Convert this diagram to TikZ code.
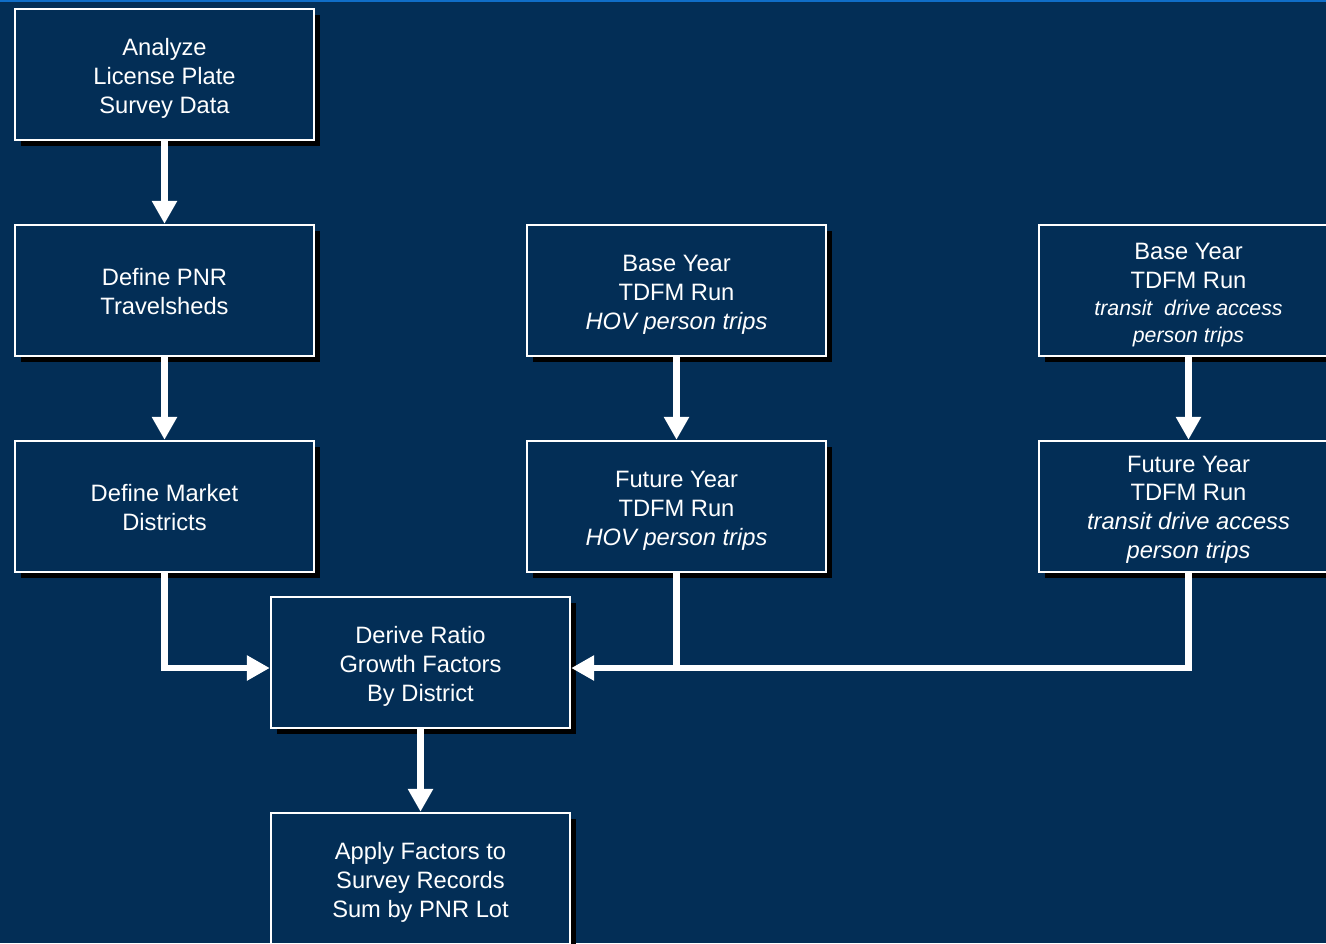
\documentclass[tikz,border=0pt]{standalone}
\usepackage{fontspec}
\setmainfont{Liberation Sans}
\usetikzlibrary{arrows.meta,shadows}
\definecolor{bg}{RGB}{3,46,86}
\definecolor{topblue}{RGB}{16,110,200}
\begin{document}
\begin{tikzpicture}[x=1pt,y=-1pt,
 box/.style={draw=white, line width=2.4pt, fill=bg, minimum width=299pt, minimum height=131pt,
   inner sep=0pt,
   general shadow={fill=black, shadow xshift=6pt, shadow yshift=-6pt}},
 txt/.style={align=center, text=white, inner sep=0pt, font=\fontsize{23.7}{28.8}\selectfont},
 conn/.style={draw=white, line width=6.5pt, line join=miter},
 arr/.style={conn, -{Triangle[length=23pt,width=24pt]}}
]
\fill[bg] (0,0) rectangle (1326,943);
\clip (0,0) rectangle (1326,943);
\fill[topblue] (0,0) rectangle (1326,2);

\node[box, label={[txt, yshift=-4pt]center:{Analyze\\License Plate\\Survey Data}}] (a) at (164.5,74.5) {};
\node[box, label={[txt, yshift=-1pt]center:{Define PNR\\Travelsheds}}] (b) at (164.5,290.5) {};
\node[box, label={[txt, yshift=-1pt]center:{Define Market\\Districts}}] (c) at (164.5,506.5) {};
\node[box, label={[txt, yshift=-4pt]center:{Base Year\\TDFM Run\\\textit{HOV person trips}}}] (e1) at (676.5,290.5) {};
\node[box, label={[txt, yshift=-4pt]center:{Future Year\\TDFM Run\\\textit{HOV person trips}}}] (e2) at (676.5,506.5) {};
\node[box, label={[txt, yshift=-4.5pt]center:{Base Year\\TDFM Run\\[-1.5pt]{\itshape\fontsize{21.3}{26}\selectfont transit\ \ drive access}\\[-2.5pt]{\itshape\fontsize{21.3}{26}\selectfont person trips}}}] (g1) at (1188.5,290.5) {};
\node[box, label={[txt, yshift=-3pt]center:{Future Year\\TDFM Run\\\textit{transit drive access}\\\textit{person trips}}}] (g2) at (1188.5,506.5) {};
\node[box, label={[txt, yshift=-4pt]center:{Derive Ratio\\Growth Factors\\By District}}] (d) at (420.5,662.5) {};
\node[box, label={[txt, yshift=-4pt]center:{Apply Factors to\\Survey Records\\Sum by PNR Lot}}] (i) at (420.5,878.5) {};

\coordinate (jl) at (164.5,668);

\draw[arr] (a) -- (b);
\draw[arr] (b) -- (c);
\draw[arr] (e1) -- (e2);
\draw[arr] (g1) -- (g2);
\draw[arr] (c.south) |- (d.west |- jl);
\draw[arr] (g2.south) |- (d.east |- jl);
\draw[conn] (e2.south) -- (e2.south |- jl);
\draw[arr] (d) -- (i);
\end{tikzpicture}
\end{document}
